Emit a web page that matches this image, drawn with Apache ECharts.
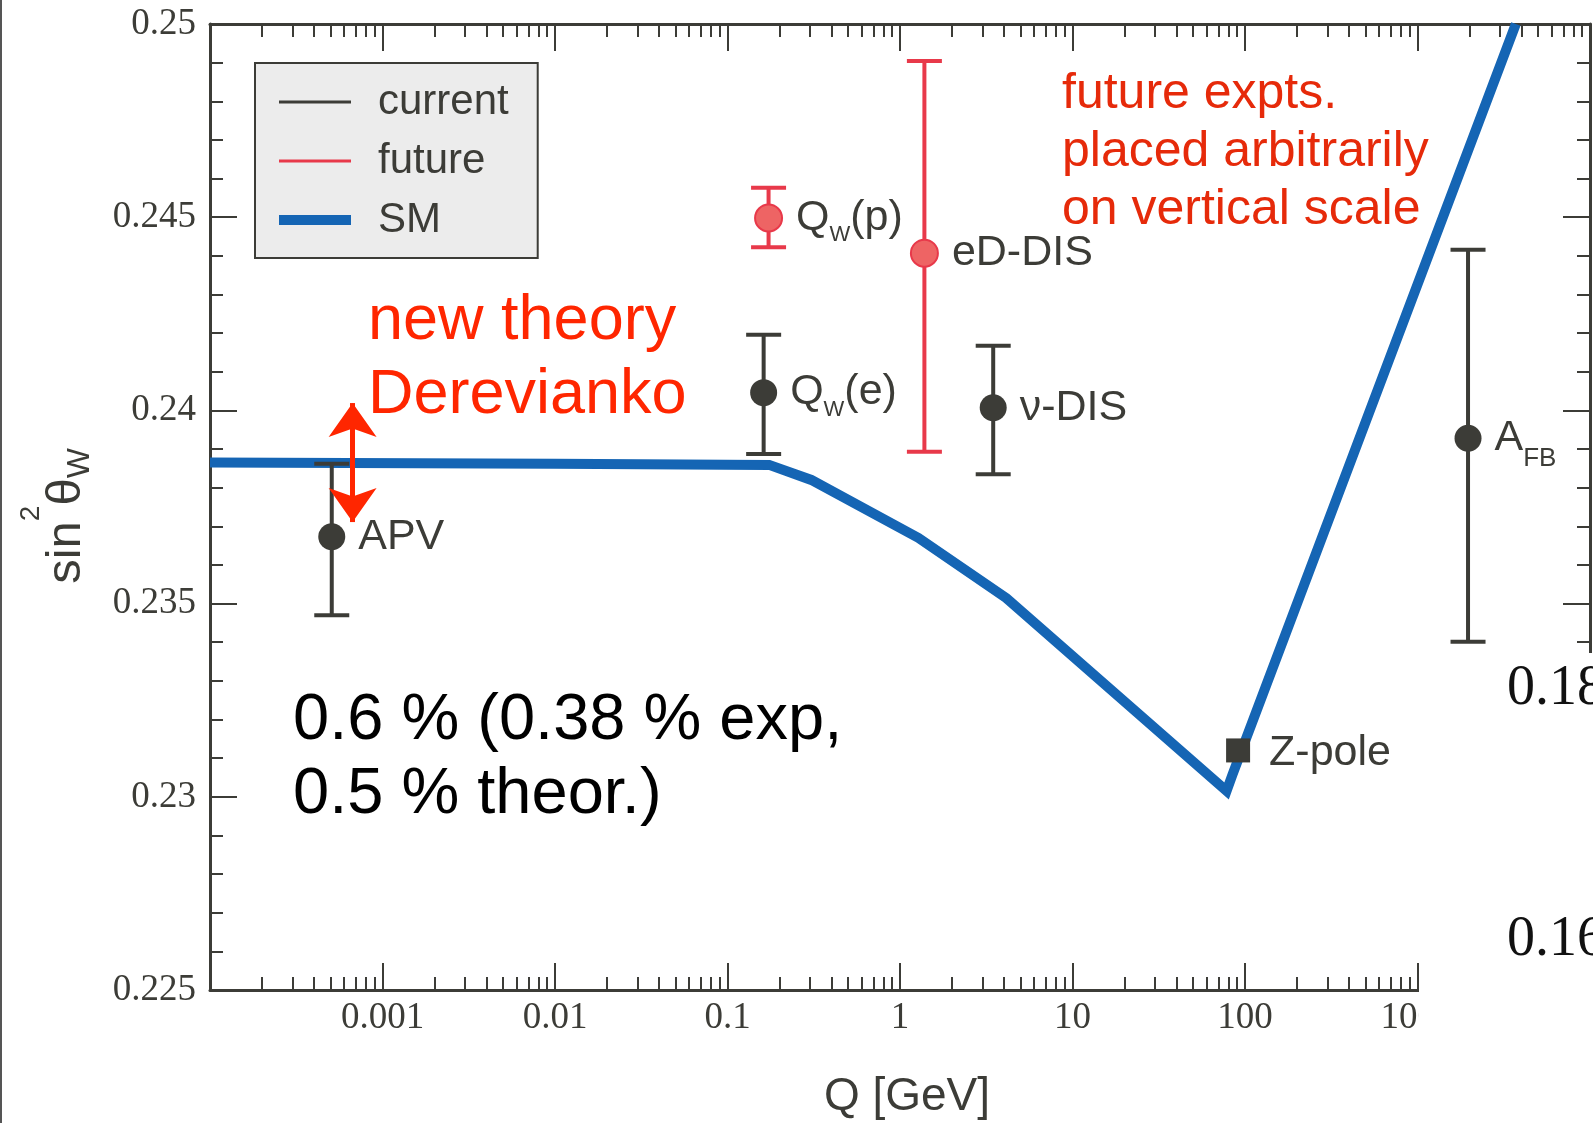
<!DOCTYPE html>
<html>
<head>
<meta charset="utf-8">
<title>running weak mixing angle</title>
<script src="https://cdn.jsdelivr.net/npm/echarts@6/dist/echarts.min.js"></script>
<style>
    html, body { margin: 0; padding: 0; background: #fff; }
    #mixing_angle { width: 1593px; height: 1123px; }
</style>
</head>
<body>
<div id="mixing_angle"></div>
<script>
// SM running of sin^2(theta_W), Q in GeV
var smQ = [0.0001, 0.01, 0.1745, 0.306, 1.28, 4.14, 78.2, 84.7, 3715];
var smValue = [0.23865, 0.23862, 0.23859, 0.23820, 0.23670, 0.23514, 0.23015, 0.23058, 0.25];

// current measurements
var currentNames = ['APV', 'Q{sub|W}(e)', 'ν-DIS', 'A{fb|FB}'];
var currentQ = [0.000508, 0.162, 3.47, 1963];
var currentValue = [0.23673, 0.24046, 0.24007, 0.23928];
var currentLow = [0.23470, 0.23887, 0.23835, 0.23401];
var currentHigh = [0.23862, 0.24196, 0.24167, 0.24416];

// future experiments
var futureNames = ['Q{sub|W}(p)', 'eD-DIS'];
var futureQ = [0.173, 1.385];
var futureValue = [0.24498, 0.24407];
var futureLow = [0.24422, 0.23893];
var futureHigh = [0.24576, 0.24904];

var zPoleQ = [91.19];
var zPoleValue = [0.23120];

// red double arrow next to APV
var arrowQ = 0.000671;
var arrowTop = 0.24019;
var arrowBottom = 0.23711;

var xTickValues = [0.001, 0.01, 0.1, 1, 10, 100, 1000];
var xTickLabels = ['0.001', '0.01', '0.1', '1', '10', '100', '1000'];
var yTickValues = [0.225, 0.23, 0.235, 0.24, 0.245, 0.25];
var yTickLabels = ['0.225', '0.23', '0.235', '0.24', '0.245', '0.25'];

var SANS = '"Liberation Sans", Arial, sans-serif';
var SERIF = '"Liberation Serif", "Times New Roman", serif';
var axisColor = '#3c3c37';
var currentColor = '#3c3c37';
var futureColor = '#e8394a';
var smColor = '#1565b4';

// minor ticks 2..9 in each decade, in log10 units
var minorLogTicks = [];
for (var d = -4; d < 4; d++) {
    for (var k = 2; k <= 9; k++) {
        minorLogTicks.push(d + Math.log10(k));
    }
}

function xLabel(value) {
    for (var i = 0; i < xTickValues.length; i++) {
        if (Math.abs(Math.log10(value / xTickValues[i])) < 0.01) return xTickLabels[i];
    }
    return '';
}

function yLabel(value) {
    for (var i = 0; i < yTickValues.length; i++) {
        if (Math.abs(value - yTickValues[i]) < 1e-6) return yTickLabels[i];
    }
    return '';
}

function pairs(xs, ys) {
    return xs.map(function (x, i) { return [x, ys[i]]; });
}

function errorBar(color) {
    return function (params, api) {
        var top = api.coord([api.value(0), api.value(2)]);
        var bottom = api.coord([api.value(0), api.value(1)]);
        var half = 17.5;
        var style = {stroke: color, lineWidth: 4};
        return {
            type: 'group',
            children: [
                {type: 'line', shape: {x1: top[0], y1: top[1], x2: bottom[0], y2: bottom[1]}, style: style},
                {type: 'line', shape: {x1: top[0] - half, y1: top[1], x2: top[0] + half, y2: top[1]}, style: style},
                {type: 'line', shape: {x1: bottom[0] - half, y1: bottom[1], x2: bottom[0] + half, y2: bottom[1]}, style: style}
            ]
        };
    };
}

var tickLine = {color: axisColor, width: 2};
var frameLine = {show: true, onZero: false, lineStyle: {color: axisColor, width: 3}};

var pointLabel = {
    show: true,
    position: 'right',
    distance: 13,
    fontFamily: SANS,
    fontSize: 43,
    color: '#3c3c37',
    rich: {
        sub: {fontSize: 22, padding: [34, 0, 0, 0]},
        fb: {fontSize: 26, padding: [42, 0, 0, 0]}
    }
};

var myChart = echarts.init(document.getElementById('mixing_angle'));
var option = {
    animation: false,
    grid: {
        left: 210,
        right: 3,
        top: 24,
        bottom: 133,
        outerBoundsMode: 'none'
    },
    legend: {
        left: 255,
        top: 63,
        orient: 'vertical',
        selectedMode: false,
        backgroundColor: '#ececec',
        borderColor: axisColor,
        borderWidth: 2,
        borderRadius: 0,
        padding: [15, 29, 14, 24],
        itemWidth: 72,
        itemHeight: 14,
        itemGap: 11,
        textStyle: {
            fontFamily: SANS,
            fontSize: 42,
            color: '#3c3c37',
            lineHeight: 48,
            padding: [0, 0, 0, 22]
        },
        data: [
            {name: 'current', icon: 'path://M0 0H72V3H0Z'},
            {name: 'future', icon: 'path://M0 0H72V3H0Z'},
            {name: 'SM', icon: 'path://M0 0H72V10H0Z'}
        ]
    },
    xAxis: [
        {
            type: 'log',
            logBase: 10,
            position: 'bottom',
            min: 0.0001,
            max: 10000,
            axisLine: frameLine,
            axisTick: {inside: true, length: 27, lineStyle: tickLine},
            axisLabel: {formatter: xLabel, fontFamily: SERIF, fontSize: 37, color: axisColor, margin: 10},
            splitLine: {show: false},
            name: 'Q [GeV]',
            nameLocation: 'middle',
            nameGap: 84,
            nameTextStyle: {fontFamily: SANS, fontSize: 46, color: axisColor, padding: [0, 0, 0, 14]}
        },
        {
            type: 'value',
            position: 'bottom',
            min: -4,
            max: 4,
            axisLine: {show: false, onZero: false},
            axisTick: {inside: true, length: 13, lineStyle: tickLine, customValues: minorLogTicks},
            axisLabel: {show: false},
            splitLine: {show: false}
        },
        {
            type: 'log',
            logBase: 10,
            position: 'top',
            min: 0.0001,
            max: 10000,
            axisLine: frameLine,
            axisTick: {inside: true, length: 27, lineStyle: tickLine},
            axisLabel: {show: false},
            splitLine: {show: false}
        },
        {
            type: 'value',
            position: 'top',
            min: -4,
            max: 4,
            axisLine: {show: false, onZero: false},
            axisTick: {inside: true, length: 13, lineStyle: tickLine, customValues: minorLogTicks},
            axisLabel: {show: false},
            splitLine: {show: false}
        }
    ],
    yAxis: [
        {
            type: 'value',
            position: 'left',
            min: 0.225,
            max: 0.25,
            interval: 0.005,
            axisLine: frameLine,
            axisTick: {inside: true, length: 27, lineStyle: tickLine},
            minorTick: {show: true, splitNumber: 5, length: 13, lineStyle: tickLine},
            axisLabel: {formatter: yLabel, fontFamily: SERIF, fontSize: 37, color: axisColor, margin: 14},
            splitLine: {show: false},
            minorSplitLine: {show: false},
            name: 'sin{sup|2}θ{sub|W}',
            nameLocation: 'middle',
            nameRotate: 90,
            nameGap: 95,
            nameTextStyle: {
                fontFamily: SANS,
                fontSize: 49,
                color: axisColor,
                padding: [0, 18, 0, 0],
                rich: {
                    sup: {fontSize: 28, padding: [0, 0, 70, 0]},
                    sub: {fontSize: 32, padding: [28, 0, 0, 0]}
                }
            }
        },
        {
            type: 'value',
            position: 'right',
            min: 0.225,
            max: 0.25,
            interval: 0.005,
            axisLine: frameLine,
            axisTick: {inside: true, length: 27, lineStyle: tickLine},
            minorTick: {show: true, splitNumber: 5, length: 13, lineStyle: tickLine},
            axisLabel: {show: false},
            splitLine: {show: false},
            minorSplitLine: {show: false}
        }
    ],
    series: [
        {
            name: 'SM',
            type: 'line',
            xAxisIndex: 0,
            yAxisIndex: 0,
            data: pairs(smQ, smValue),
            symbol: 'none',
            showSymbol: false,
            itemStyle: {color: smColor},
            lineStyle: {color: smColor, width: 10, join: 'miter', miterLimit: 20},
            clip: true,
            silent: true,
            z: 2
        },
        {
            name: 'current',
            type: 'custom',
            xAxisIndex: 0,
            yAxisIndex: 0,
            renderItem: errorBar(currentColor),
            encode: {x: 0, y: [1, 2]},
            data: currentQ.map(function (q, i) { return [q, currentLow[i], currentHigh[i]]; }),
            itemStyle: {color: currentColor},
            silent: true,
            z: 3
        },
        {
            name: 'current',
            type: 'scatter',
            xAxisIndex: 0,
            yAxisIndex: 0,
            data: pairs(currentQ, currentValue),
            symbolSize: 27,
            itemStyle: {color: currentColor, opacity: 1},
            label: Object.assign({}, pointLabel, {
                formatter: function (p) { return currentNames[p.dataIndex]; }
            }),
            silent: true,
            z: 4
        },
        {
            name: 'future',
            type: 'custom',
            xAxisIndex: 0,
            yAxisIndex: 0,
            renderItem: errorBar(futureColor),
            encode: {x: 0, y: [1, 2]},
            data: futureQ.map(function (q, i) { return [q, futureLow[i], futureHigh[i]]; }),
            itemStyle: {color: futureColor},
            silent: true,
            z: 3
        },
        {
            name: 'future',
            type: 'scatter',
            xAxisIndex: 0,
            yAxisIndex: 0,
            data: pairs(futureQ, futureValue),
            symbolSize: 27,
            itemStyle: {color: '#ee6464', borderColor: futureColor, borderWidth: 2, opacity: 1},
            label: Object.assign({}, pointLabel, {
                formatter: function (p) { return futureNames[p.dataIndex]; }
            }),
            silent: true,
            z: 4
        },
        {
            name: 'Z-pole',
            type: 'scatter',
            xAxisIndex: 0,
            yAxisIndex: 0,
            data: pairs(zPoleQ, zPoleValue),
            symbol: 'rect',
            symbolSize: 24,
            itemStyle: {color: currentColor, opacity: 1},
            label: Object.assign({}, pointLabel, {distance: 19, padding: [6, 0, 0, 0], formatter: 'Z-pole'}),
            silent: true,
            z: 5,
            markLine: {
                silent: true,
                symbol: ['arrow', 'arrow'],
                symbolSize: [36, 34],
                lineStyle: {color: '#ff2600', width: 5, type: 'solid'},
                label: {show: false},
                data: [[{coord: [arrowQ, arrowTop]}, {coord: [arrowQ, arrowBottom]}]]
            }
        }
    ],
    graphic: [
        {
            type: 'line',
            z: 100,
            shape: {x1: 1, y1: 0, x2: 1, y2: 1123},
            style: {stroke: '#555', lineWidth: 2}
        },
        {
            type: 'rect',
            z: 100,
            shape: {x: 1419, y: 653, width: 174, height: 470},
            style: {fill: '#fff'}
        },
        {
            type: 'text',
            z: 101,
            x: 1507,
            y: 689,
            style: {text: '0.18', fontFamily: SERIF, fontSize: 56, fill: '#111', verticalAlign: 'middle'}
        },
        {
            type: 'text',
            z: 101,
            x: 1507,
            y: 940,
            style: {text: '0.16', fontFamily: SERIF, fontSize: 56, fill: '#111', verticalAlign: 'middle'}
        },
        {
            type: 'text',
            z: 50,
            x: 368,
            y: 285,
            style: {text: 'new theory\nDerevianko', fontFamily: SANS, fontSize: 63, lineHeight: 74, fill: '#ff2600', verticalAlign: 'top'}
        },
        {
            type: 'text',
            z: 50,
            x: 1062,
            y: 65,
            style: {text: 'future expts.\nplaced arbitrarily\non vertical scale', fontFamily: SANS, fontSize: 50, lineHeight: 58, fill: '#e62a0a', verticalAlign: 'top'}
        },
        {
            type: 'text',
            z: 50,
            x: 293,
            y: 684,
            style: {text: '0.6 % (0.38 % exp,\n0.5 % theor.)', fontFamily: SANS, fontSize: 65, lineHeight: 74, fill: '#000', verticalAlign: 'top'}
        }
    ]
};
myChart.setOption(option);
</script>
</body>
</html>
